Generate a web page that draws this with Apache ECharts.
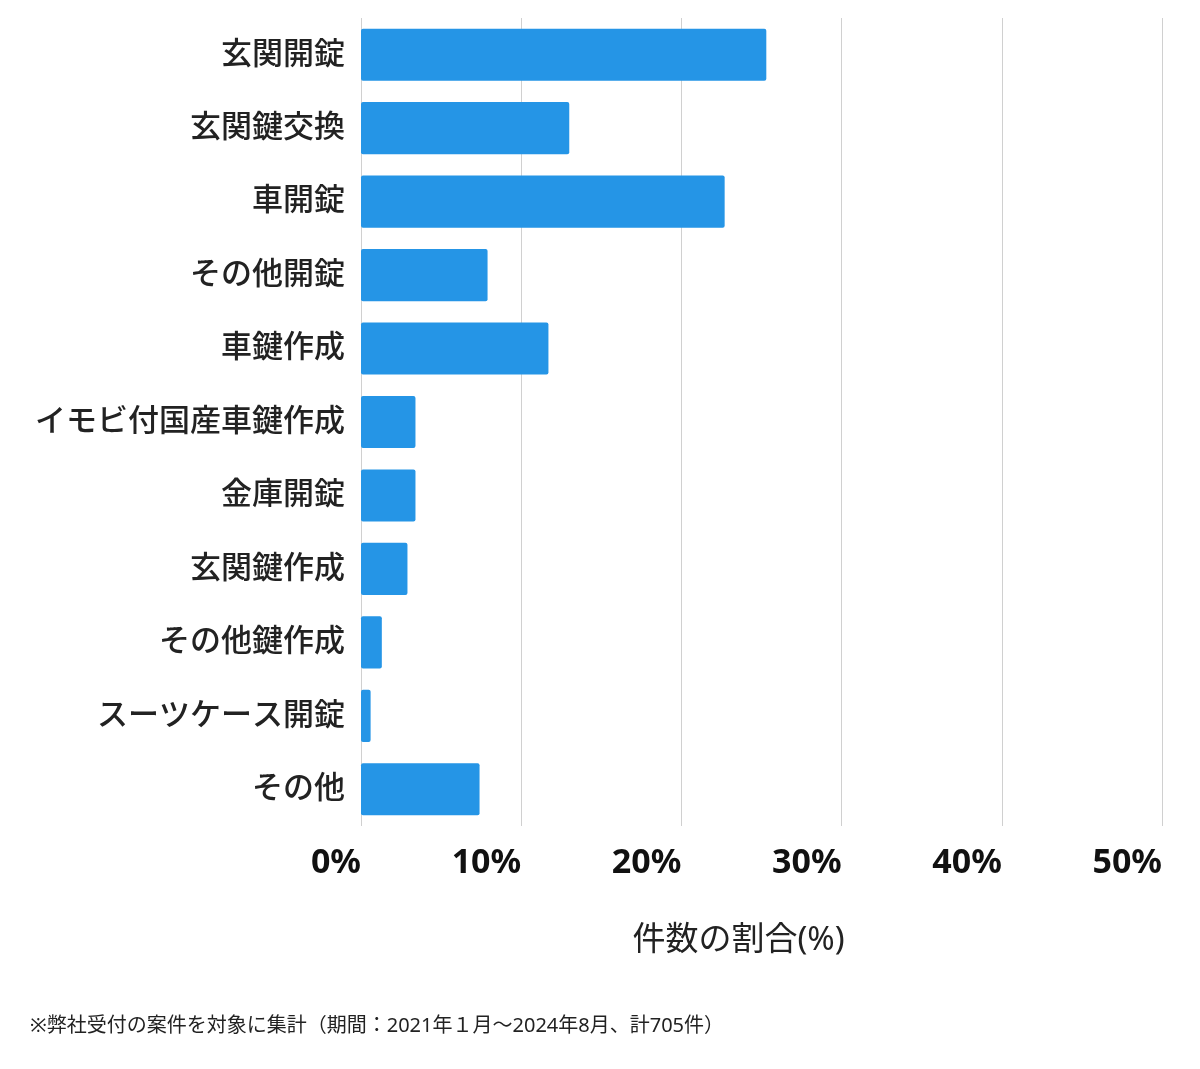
<!DOCTYPE html>
<html><head><meta charset="utf-8">
<script src="https://cdn.jsdelivr.net/npm/echarts@6/dist/echarts.min.js"></script>
<style>html,body{margin:0;padding:0;background:#fff}#c{width:1200px;height:1069px}</style>
</head><body><div id="c"></div>
<script>
const categories = ['玄関開錠','玄関鍵交換','車開錠','その他開錠','車鍵作成','イモビ付国産車鍵作成','金庫開錠','玄関鍵作成','その他鍵作成','スーツケース開錠','その他'];
const shares = [25.3, 13.0, 22.7, 7.9, 11.7, 3.4, 3.4, 2.9, 1.3, 0.6, 7.4];
const axisName = '件数の割合(%)';
const footnote = '※弊社受付の案件を対象に集計（期間：2021年１月〜2024年8月、計705件）';
const font = '"Noto Sans","Noto Sans CJK JP",sans-serif';
const chart = echarts.init(document.getElementById('c'));
chart.setOption({
  animation:false,
  grid:{left:361,right:38,top:18,bottom:243,containLabel:false},
  xAxis:{type:'value',min:0,max:50,interval:10,
    axisLine:{show:false},axisTick:{show:false},
    splitLine:{lineStyle:{color:'#d0d0d0',width:1}},
    axisLabel:{formatter:'{value}%',align:'right',margin:20,fontSize:34,fontWeight:'bold',color:'#111',fontFamily:font},
    name:axisName,nameLocation:'middle',nameGap:98,
    nameTextStyle:{fontSize:33,color:'#222',fontFamily:font,padding:[0,46,0,0]}},
  yAxis:{type:'category',data:categories,inverse:true,
    axisLine:{show:false},axisTick:{show:false},
    axisLabel:{fontSize:31,fontWeight:500,color:'#222',margin:16,fontFamily:font}},
  series:[{type:'bar',data:shares,barCategoryGap:'29%',
    itemStyle:{color:'#2595e6',borderRadius:2}}],
  graphic:[{type:'text',left:30,top:1016,style:{text:footnote,fontSize:20,fill:'#222',fontFamily:font}}]
});
</script></body></html>
